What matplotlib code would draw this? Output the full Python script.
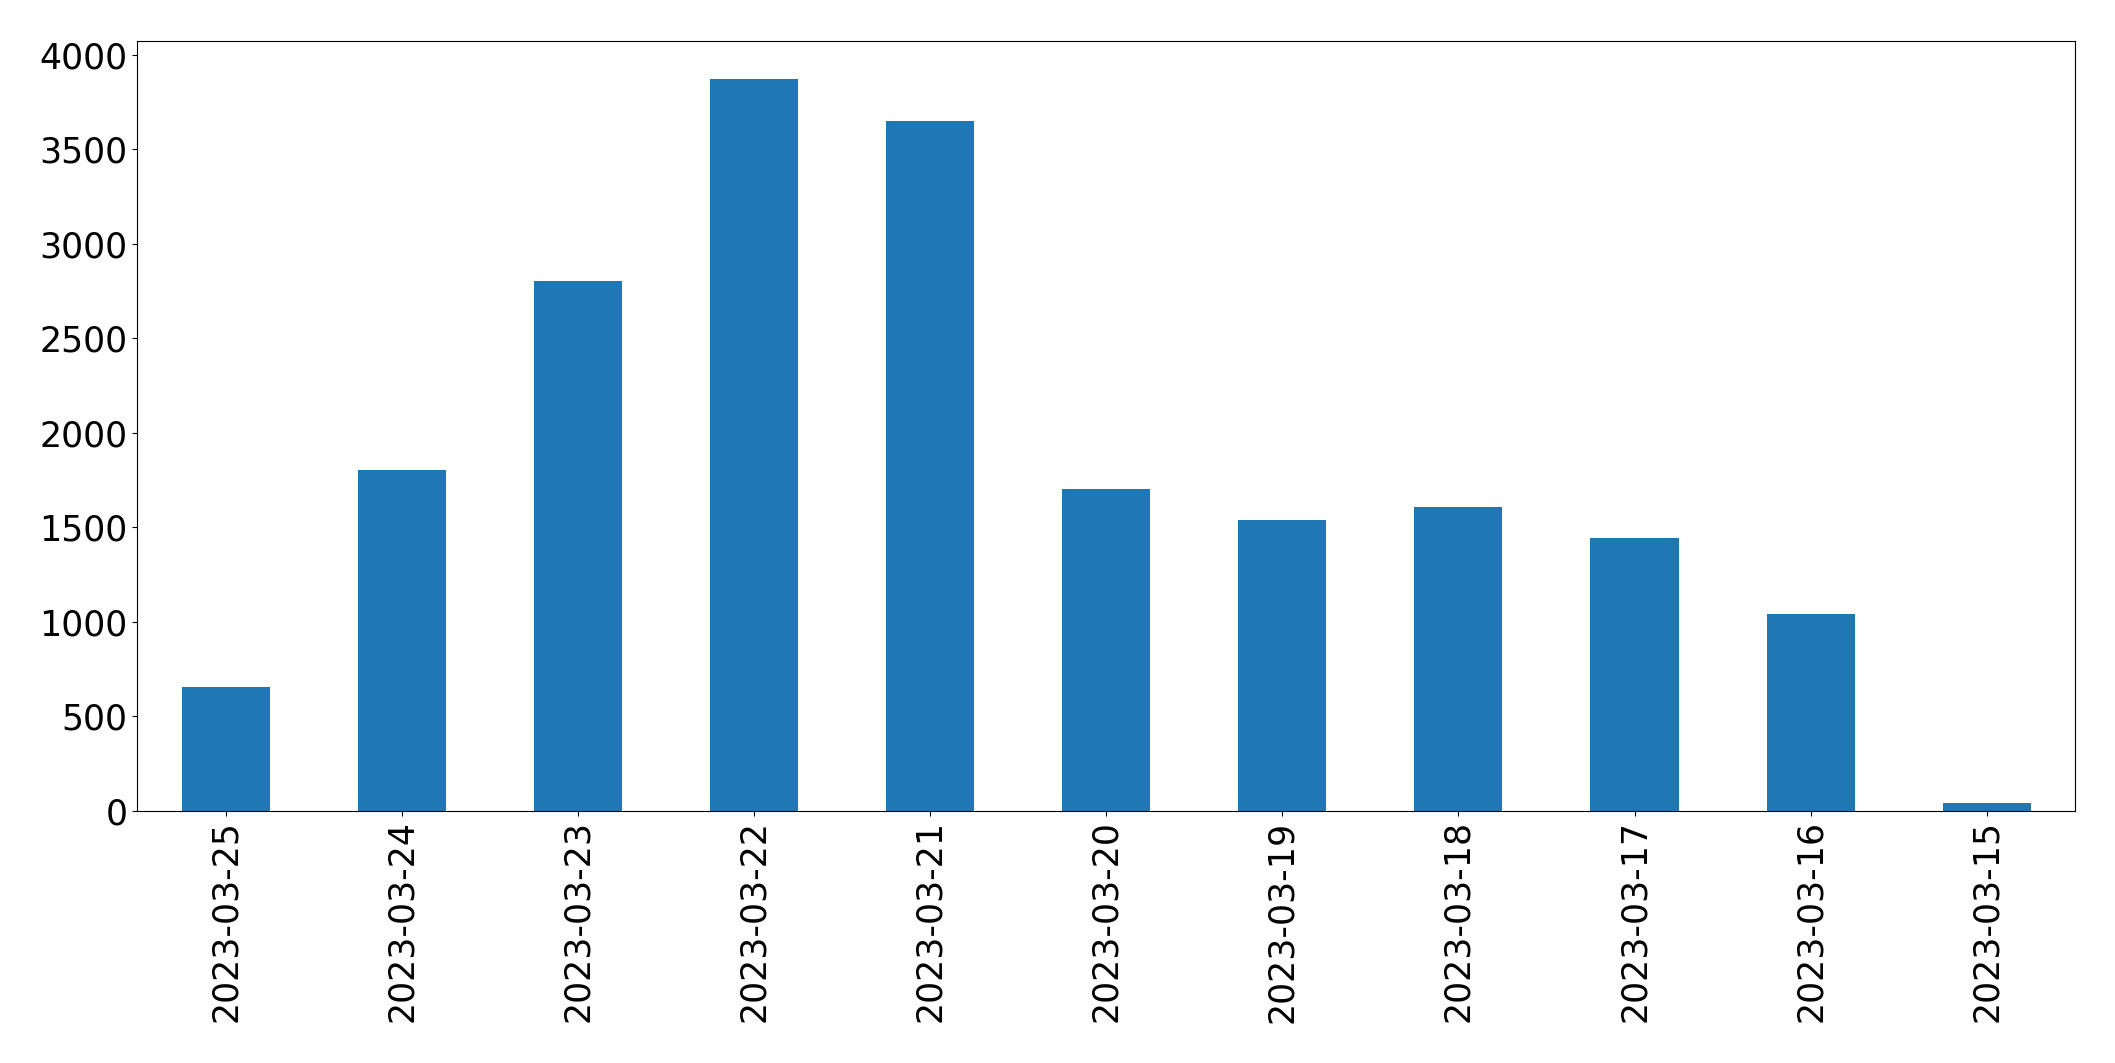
import matplotlib
matplotlib.use("Agg")
import matplotlib.pyplot as plt
import numpy as np

# daily counts, newest first (as in the source plot)
dates = ["2023-03-25", "2023-03-24", "2023-03-23", "2023-03-22", "2023-03-21",
         "2023-03-20", "2023-03-19", "2023-03-18", "2023-03-17", "2023-03-16",
         "2023-03-15"]
counts = [654, 1804, 2803, 3870, 3649, 1702, 1538, 1606, 1443, 1041, 42]

fig = plt.figure(figsize=(21.15, 10.63), dpi=100)
ax = fig.add_axes([0.065, 0.2375, 0.916, 0.7235])

x = np.arange(len(dates))
ax.bar(x, counts, width=0.5, color="#1f77b4")
ax.set_xlim(-0.5, len(dates) - 0.5)
ax.set_ylim(0, 4070)
ax.set_xticks(x)
ax.set_xticklabels(dates, rotation=90)
ax.set_yticks(np.arange(0, 4001, 500))
ax.tick_params(axis="both", labelsize=25)

fig.savefig("out.png", dpi=100)
